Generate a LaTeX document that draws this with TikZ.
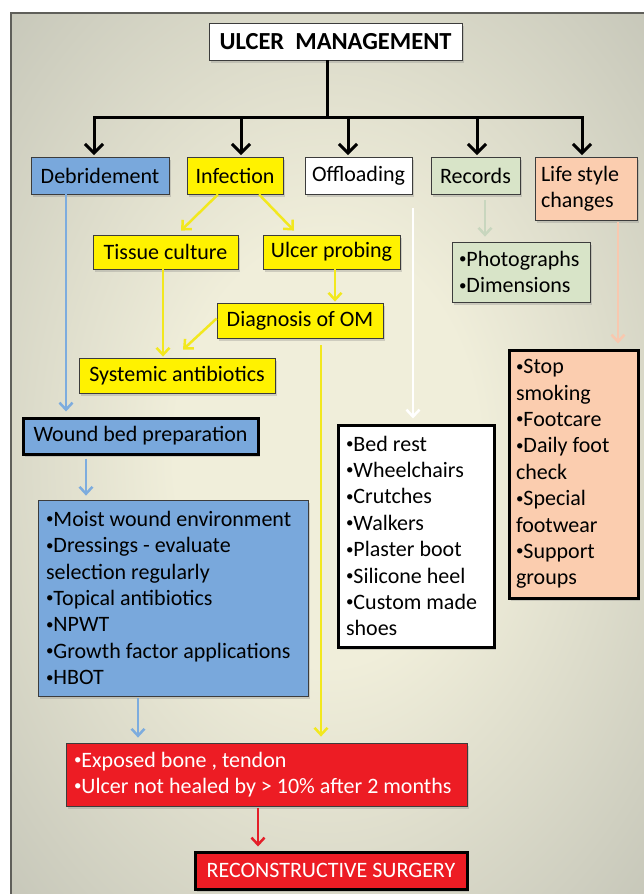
\documentclass[tikz,border=0pt]{standalone}
\usepackage{fontspec}
\setmainfont{Carlito}
\usetikzlibrary{arrows.meta,shadows}
\definecolor{bgin}{RGB}{240,238,218}
\definecolor{bgout}{RGB}{174,176,166}
\definecolor{bgcorner}{RGB}{150,151,142}
\definecolor{edgecol}{RGB}{95,95,90}
\definecolor{cblue}{RGB}{121,168,220}
\definecolor{cyellow}{RGB}{255,242,0}
\definecolor{cgreen}{RGB}{216,228,200}
\definecolor{cpeach}{RGB}{251,205,175}
\definecolor{cred}{RGB}{237,28,36}
\definecolor{boxline}{RGB}{60,60,60}
\definecolor{ablue}{RGB}{125,172,222}
\definecolor{ayellow}{RGB}{242,232,30}
\definecolor{agreen}{RGB}{200,214,190}
\definecolor{apeach}{RGB}{248,200,175}
\definecolor{ared}{RGB}{228,30,40}
\newcommand{\bu}{\raisebox{0.25ex}{\fontsize{15}{15}\selectfont •}}
\pgfdeclareradialshading{bgshade}{\pgfpoint{0bp}{0bp}}{color(0bp)=(bgin); color(12bp)=(bgin); color(50bp)=(bgout); color(72bp)=(bgcorner)}
\tikzset{
  base/.style={rectangle, inner sep=0pt, line width=0.8pt, draw=boxline,
    font=\fontsize{22}{26.4}\selectfont, text=black,
    drop shadow={shadow xshift=2pt, shadow yshift=-2.5pt, opacity=0.3}},
  heavy/.style={base, draw=black, line width=3pt},
  blackline/.style={line width=3pt, draw=black},
  blackarrow/.style={line width=3pt, draw=black, -{Straight Barb[length=9pt,width=18pt]}},
  colarrow/.style={line width=2.5pt, -{Straight Barb[length=7pt,width=13pt]}},
}
\begin{document}
\begin{tikzpicture}[x=1pt,y=-1pt]
\useasboundingbox (0,0) rectangle (644,894);
\fill[white] (0,0) rectangle (644,894);
\shade[shading=bgshade] (10,12) rectangle (644,894);
\draw[edgecol, line width=2pt] (11,894) -- (11,13) -- (644,13);

% nodes
\node[base, fill=white, minimum width=253pt, minimum height=37pt,
  font=\fontsize{24.5}{29}\selectfont\bfseries] (title) at (335.5,41.5) {ULCER\ \ MANAGEMENT};
\node[base, fill=cblue, minimum width=138pt, minimum height=37pt] (debr) at (100,175.5) {Debridement};
\node[base, fill=cyellow, minimum width=96pt, minimum height=37pt] (infect) at (235,175.5) {Infection};
\node[base, fill=white, minimum width=107pt, minimum height=37pt] (offl) at (358.5,175.5) {Offloading};
\node[base, fill=cgreen, minimum width=89pt, minimum height=37pt] (rec) at (475.5,175.5) {Records};
\node[base, fill=cpeach, minimum width=102pt, minimum height=63pt, align=flush left, text width=90pt] (life) at (586,188.5) {Life style\\changes};
\node[base, fill=cyellow, minimum width=145pt, minimum height=34pt] (tissue) at (165.5,252) {Tissue culture};
\node[base, fill=cyellow, minimum width=137pt, minimum height=34pt] (probe) at (331.5,252) {Ulcer probing};
\node[base, fill=cgreen, minimum width=138pt, minimum height=60pt, align=flush left, text width=124pt] (photo) at (521,272) {\bu Photographs\\\bu Dimensions};
\node[base, fill=cyellow, minimum width=166pt, minimum height=35pt] (diag) at (300,320.5) {Diagnosis of OM};
\node[base, fill=cyellow, minimum width=196pt, minimum height=35pt] (syst) at (177,375.5) {Systemic antibiotics};
\node[heavy, fill=cblue, minimum width=235pt, minimum height=36pt] (wound) at (140.5,436) {Wound bed preparation};
\node[heavy, fill=white, minimum width=156pt, minimum height=222pt, align=flush left, text width=140pt] (offlist) at (416,536)
  {\bu Bed rest\\\bu Wheelchairs\\\bu Crutches\\\bu Walkers\\\bu Plaster boot\\\bu Silicone heel\\\bu Custom made\\shoes};
\node[heavy, fill=cpeach, minimum width=129pt, minimum height=248pt, align=flush left, text width=115pt] (lifelist) at (573.5,474)
  {\bu Stop\\smoking\\\bu Footcare\\\bu Daily foot\\check\\\bu Special\\footwear\\\bu Support\\groups};
\node[base, fill=cblue, minimum width=270pt, minimum height=196pt, align=flush left, text width=254pt] (blist) at (173,598)
  {\bu Moist wound environment\\\bu Dressings - evaluate\\selection regularly\\\bu Topical antibiotics\\\bu NPWT\\\bu Growth factor applications\\\bu HBOT};
\node[base, fill=cred, text=white, minimum width=401pt, minimum height=63pt, align=flush left, text width=385pt] (redbox) at (266.5,774.5)
  {\bu Exposed bone , tendon\\\bu Ulcer not healed by > 10\% after 2 months};
\node[heavy, fill=cred, text=white, minimum width=272pt, minimum height=37pt] (recon) at (331,870.5) {RECONSTRUCTIVE SURGERY};

% black tree
\draw[blackline] ([xshift=-8.5pt]title.south) -- ++(0,57) coordinate (hub);
\coordinate (k1) at ([xshift=-6pt]debr.north);
\coordinate (k2) at ([xshift=6pt]infect.north);
\coordinate (k3) at ([xshift=-10.5pt]offl.north);
\coordinate (k4) at ([xshift=1.5pt]rec.north);
\coordinate (k5) at ([xshift=-4pt]life.north);
\draw[blackline, line cap=rect] (k1 |- hub) -- (k5 |- hub);
\foreach \k in {k1,k2,k3,k4,k5}{
  \draw[blackarrow] (\k |- hub) -- ([yshift=1.5pt]\k);
}

% yellow arrows
\draw[colarrow, ayellow] ([xshift=-17pt]infect.south) -- ([xshift=15.5pt,yshift=4pt]tissue.north);
\draw[colarrow, ayellow] ([xshift=24pt]infect.south) -- ([xshift=-37.5pt,yshift=4pt]probe.north);
\coordinate (y1) at ([xshift=3.5pt]probe.south);
\coordinate (y1e) at (y1 |- diag.north);
\draw[colarrow, ayellow] (y1) -- ([yshift=1pt]y1e);
\coordinate (y2) at ([xshift=-2.5pt]tissue.south);
\coordinate (y2e) at (y2 |- syst.north);
\draw[colarrow, ayellow] (y2) -- ([yshift=1pt]y2e);
\draw[colarrow, ayellow] ([yshift=2pt]diag.west) -- ([xshift=6pt,yshift=8pt]syst.north);
\coordinate (y3) at ([xshift=21pt,yshift=-7pt]diag.south);
\coordinate (y3e) at (y3 |- redbox.north);
\draw[colarrow, ayellow] (y3) -- ([yshift=6pt]y3e);

% blue arrows
\coordinate (b1) at ([xshift=-34pt]debr.south);
\coordinate (b1e) at (b1 |- wound.north);
\draw[colarrow, ablue] (b1) -- ([yshift=5pt]b1e);
\coordinate (b2) at ([xshift=-54.5pt,yshift=-3pt]wound.south);
\coordinate (b2e) at (b2 |- blist.north);
\draw[colarrow, ablue] (b2) -- ([yshift=4pt]b2e);
\coordinate (b3) at ([xshift=-35pt,yshift=-2pt]blist.south);
\coordinate (b3e) at (b3 |- redbox.north);
\draw[colarrow, ablue] (b3) -- ([yshift=5pt]b3e);

% white, green, peach, red arrows
\coordinate (w1) at ([xshift=54.5pt,yshift=-14pt]offl.south);
\coordinate (w1e) at (w1 |- offlist.north);
\draw[colarrow, white] (w1) -- ([yshift=5pt]w1e);
\coordinate (g1) at ([xshift=9.5pt,yshift=-6pt]rec.south);
\coordinate (g1e) at (g1 |- photo.north);
\draw[colarrow, agreen] (g1) -- ([yshift=5pt]g1e);
\coordinate (p1) at ([xshift=32pt,yshift=-2pt]life.south);
\coordinate (p1e) at (p1 |- lifelist.north);
\draw[colarrow, apeach] (p1) -- ([yshift=5pt]p1e);
\coordinate (r1) at ([xshift=-8.5pt,yshift=-2pt]redbox.south);
\coordinate (r1e) at (r1 |- recon.north);
\draw[colarrow, ared] (r1) -- ([yshift=4pt]r1e);
\end{tikzpicture}
\end{document}
